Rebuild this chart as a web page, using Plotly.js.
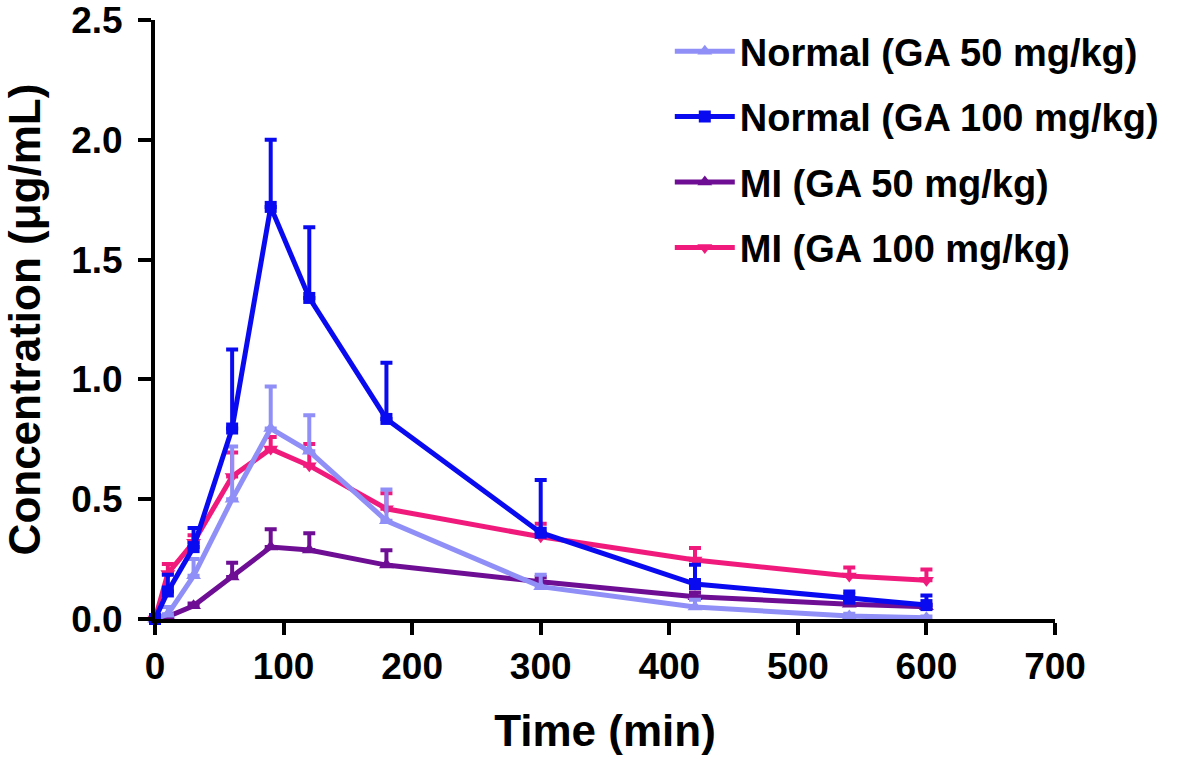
<!DOCTYPE html>
<html>
<head>
<meta charset="utf-8">
<script src="https://cdn.plot.ly/plotly-3.0.1.min.js"></script>
<style>html,body{margin:0;padding:0;background:#fff;}#chart{width:1178px;height:760px;}</style>
</head>
<body>
<div id="chart"></div>
<script>
var time = [0, 10, 30, 60, 90, 120, 180, 300, 420, 540, 600];

var normal50 = [0, 0.02, 0.18, 0.50, 0.795, 0.70, 0.41, 0.135, 0.05, 0.012, 0.005];
var normal50Err = [0.01, 0.03, 0.07, 0.22, 0.175, 0.15, 0.13, 0.05, 0.03, 0.01, 0.005];

var normal100 = [0, 0.115, 0.30, 0.795, 1.72, 1.34, 0.835, 0.36, 0.146, 0.085, 0.058];
var normal100Err = [0.01, 0.07, 0.08, 0.33, 0.28, 0.295, 0.235, 0.22, 0.08, 0.03, 0.04];

var mi50 = [0, 0.01, 0.055, 0.175, 0.30, 0.288, 0.225, 0.155, 0.093, 0.062, 0.051];
var mi50Err = [0.005, 0.005, 0.01, 0.06, 0.075, 0.07, 0.062, 0.02, 0.018, 0.01, 0.01];

var mi100 = [0, 0.19, 0.32, 0.595, 0.71, 0.64, 0.46, 0.343, 0.246, 0.179, 0.162];
var mi100Err = [0.01, 0.04, 0.03, 0.10, 0.05, 0.09, 0.065, 0.055, 0.05, 0.036, 0.045];

var yTicks = [0, 0.5, 1.0, 1.5, 2.0, 2.5];
var yTickText = ['0.0', '0.5', '1.0', '1.5', '2.0', '2.5'];

var names = ['Normal (GA 50 mg/kg)', 'Normal (GA 100 mg/kg)', 'MI (GA 50 mg/kg)', 'MI (GA 100 mg/kg)'];
var colors = ['#8F8FF7', '#0A0AF0', '#6E0E94', '#F01A7C'];
var symbols = ['triangle-up', 'square', 'triangle-up', 'triangle-down'];

function zeros(n){ var a=[]; for(var i=0;i<n;i++) a.push(0); return a; }

function mk(idx, ys, errs){
  return {
    x: time, y: ys, name: names[idx], type: 'scatter', mode: 'lines+markers',
    legendrank: idx + 1, legendgroup: 'g' + idx,
    cliponaxis: false,
    line: {color: colors[idx], width: 5},
    marker: {color: colors[idx], symbol: symbols[idx], size: idx === 1 ? 12 : 13},
    error_y: {type: 'data', symmetric: false, array: errs, arrayminus: zeros(errs.length),
              color: colors[idx], thickness: 4, width: 6}
  };
}

var data = [
  mk(3, mi100, mi100Err),
  mk(2, mi50, mi50Err),
  mk(0, normal50, normal50Err),
  mk(1, normal100, normal100Err)
];

var fontFam = '"Liberation Sans", Arial, sans-serif';

var layout = {
  width: 1178, height: 760,
  margin: {l: 155, r: 123, t: 20, b: 141},
  paper_bgcolor: '#fff', plot_bgcolor: '#fff',
  font: {family: fontFam, color: '#000'},
  showlegend: true,
  legend: {
    x: 0.572, y: 1.0, xanchor: 'left', yanchor: 'top',
    font: {family: fontFam, size: 38, color: '#000', weight: 'bold'},
    itemwidth: 60, tracegroupgap: 13, bgcolor: 'rgba(0,0,0,0)'
  },
  xaxis: {
    range: [0, 700], dtick: 100, tick0: 0,
    showline: true, linecolor: '#000', linewidth: 4,
    ticks: 'outside', ticklen: 12, tickwidth: 4, tickcolor: '#000',
    showgrid: false, zeroline: false, ticklabeloverflow: 'allow',
    tickfont: {family: fontFam, size: 37, color: '#000', weight: 'bold'},
    title: {text: 'Time (min)', font: {family: fontFam, size: 44, color: '#000', weight: 'bold'}, standoff: 30}
  },
  yaxis: {
    range: [0, 2.5], tickmode: 'array', tickvals: yTicks, ticktext: yTickText,
    showline: true, linecolor: '#000', linewidth: 4,
    ticks: 'outside', ticklen: 13, tickwidth: 4, tickcolor: '#000',
    showgrid: false, zeroline: false, ticklabelstandoff: 8, ticklabeloverflow: 'allow',
    tickfont: {family: fontFam, size: 37, color: '#000', weight: 'bold'},
    title: {text: 'Concentration (μg/mL)', font: {family: fontFam, size: 44, color: '#000', weight: 'bold'}, standoff: 22}
  }
};

Plotly.newPlot('chart', data, layout, {displayModeBar: false, staticPlot: true});
</script>
</body>
</html>
